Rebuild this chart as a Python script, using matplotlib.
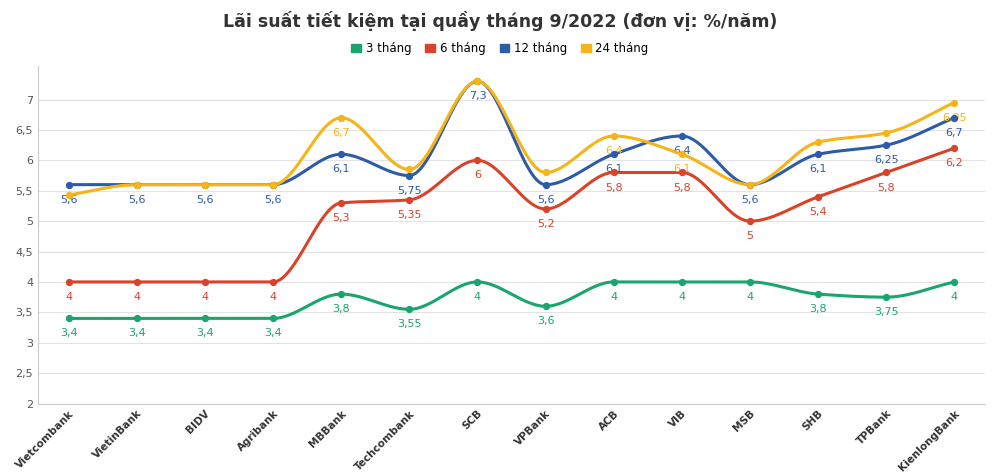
import numpy as np
import matplotlib.pyplot as plt

banks = ["Vietcombank", "VietinBank", "BIDV", "Agribank", "MBBank", "Techcombank", "SCB",
         "VPBank", "ACB", "VIB", "MSB", "SHB", "TPBank", "KienlongBank"]
m3 = [3.4, 3.4, 3.4, 3.4, 3.8, 3.55, 4, 3.6, 4, 4, 4, 3.8, 3.75, 4]
m6 = [4, 4, 4, 4, 5.3, 5.35, 6, 5.2, 5.8, 5.8, 5, 5.4, 5.8, 6.2]
m12 = [5.6, 5.6, 5.6, 5.6, 6.1, 5.75, 7.3, 5.6, 6.1, 6.4, 5.6, 6.1, 6.25, 6.7]
m24 = [5.43, 5.6, 5.6, 5.6, 6.7, 5.85, 7.3, 5.8, 6.4, 6.1, 5.6, 6.3, 6.45, 6.95]

def smooth(y, n=30):
    # monotone cubic (Fritsch-Carlson) through the points
    y = np.asarray(y, float)
    d = np.diff(y)
    m = np.zeros_like(y)
    m[0], m[-1] = d[0], d[-1]
    for i in range(1, len(y) - 1):
        if d[i - 1] * d[i] > 0:
            m[i] = 2 / (1 / d[i - 1] + 1 / d[i])
    xs, ys = [], []
    t = np.linspace(0, 1, n)
    h00 = 2 * t**3 - 3 * t**2 + 1
    h10 = t**3 - 2 * t**2 + t
    h01 = -2 * t**3 + 3 * t**2
    h11 = t**3 - t**2
    for i in range(len(y) - 1):
        xs.append(i + t)
        ys.append(h00 * y[i] + h10 * m[i] + h01 * y[i + 1] + h11 * m[i + 1])
    return np.concatenate(xs), np.concatenate(ys)

def fmt(v):
    return (f"{v:g}").replace(".", ",")

fig = plt.figure(figsize=(10, 4.72), dpi=100)
ax = fig.add_axes([0.038, 0.145, 0.947, 0.715])
x = np.arange(len(banks))

series = [("3 tháng", m3, "#1aa56e"), ("6 tháng", m6, "#d8432a"),
          ("12 tháng", m12, "#2e5ba7"), ("24 tháng", m24, "#f5b417")]
up24 = {4, 8, 9, 13}
for name, vals, c in series:
    sx, sy = smooth(vals)
    ax.plot(sx, sy, color=c, lw=2.2, label=name, zorder=3)
    ax.scatter(x, vals, color=c, s=18, zorder=4)
    for i, v in enumerate(vals):
        if name == "24 tháng" and i not in up24:
            continue
        ax.annotate(fmt(v), (i, v), xytext=(0, -13), textcoords="offset points",
                    ha="center", fontsize=8, color=c)

ax.set_ylim(2, 7.55)
ax.set_xlim(-0.45, len(banks) - 0.55)
ticks = np.arange(2, 7.01, 0.5)
ax.set_yticks(ticks)
ax.set_yticklabels([fmt(t) for t in ticks], fontsize=8, color="#555")
ax.set_xticks(x)
ax.set_xticklabels(banks, rotation=45, ha="right", rotation_mode="anchor",
                   fontsize=7.5, fontweight="bold", color="#333")
ax.grid(axis="y", color="#e3e3e3", lw=0.8)
ax.tick_params(length=0)
for s in ["top", "right"]:
    ax.spines[s].set_visible(False)
ax.spines["left"].set_color("#ccc")
ax.spines["bottom"].set_color("#ccc")

fig.text(0.5, 0.955, "Lãi suất tiết kiệm tại quầy tháng 9/2022 (đơn vị: %/năm)",
         ha="center", va="center", fontsize=12.5, fontweight="bold", color="#333")
fig.legend(loc="center", bbox_to_anchor=(0.5, 0.897), ncol=4, frameon=False,
           fontsize=8.5, handlelength=0.8, handletextpad=0.4, columnspacing=1.2,
           handles=[plt.Rectangle((0, 0), 1, 1, color=c) for _, _, c in series],
           labels=[n for n, _, _ in series])
fig.savefig("out.png")
